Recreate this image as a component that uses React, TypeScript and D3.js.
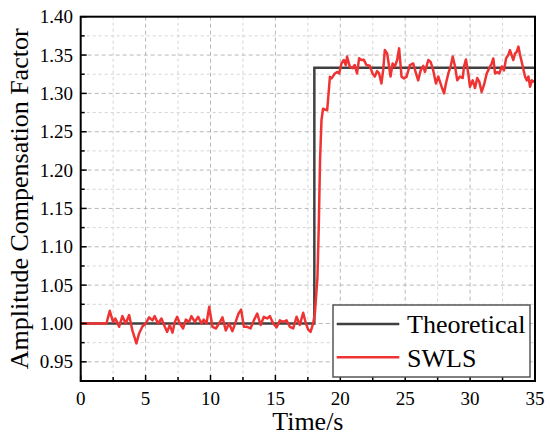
import React from "react";
import * as d3 from "d3";

const swlsTime = [
  0, 1.98, 2.24, 2.49, 2.67, 2.96, 3.21, 3.47, 3.73, 3.98, 4.29, 4.5, 4.75, 5.01, 5.27, 5.53, 5.7, 5.96,
  6.22, 6.48, 6.66, 6.86, 7.07, 7.25, 7.43, 7.63, 7.89, 8.1, 8.35, 8.53, 8.79, 9.05, 9.3, 9.48, 9.69,
  9.9, 10.15, 10.41, 10.66, 10.92, 11.18, 11.43, 11.69, 11.94, 12.16, 12.36, 12.57, 12.82, 13.08, 13.34,
  13.6, 13.86, 14.11, 14.37, 14.57, 14.83, 15.1, 15.34, 15.6, 15.86, 16.11, 16.37, 16.63, 16.88, 17.14,
  17.35, 17.53, 17.71, 17.91, 18.04, 18.24, 18.34, 18.44, 18.55, 18.67, 18.81, 18.99, 19.2, 19.33, 19.58,
  19.76, 19.91, 20.09, 20.27, 20.42, 20.52, 20.73, 20.94, 21.11, 21.29, 21.45, 21.63, 21.81, 22.01, 22.27,
  22.48, 22.66, 22.83, 22.99, 23.17, 23.3, 23.43, 23.61, 23.76, 23.87, 24.03, 24.2, 24.38, 24.53, 24.72,
  24.9, 25.1, 25.36, 25.62, 25.83, 26.0, 26.19, 26.39, 26.52, 26.78, 26.96, 27.16, 27.37, 27.55, 27.81,
  27.99, 28.14, 28.32, 28.5, 28.66, 28.84, 29.01, 29.22, 29.43, 29.53, 29.68, 29.86, 29.99, 30.2, 30.38,
  30.55, 30.71, 30.89, 31.07, 31.28, 31.48, 31.66, 31.79, 31.92, 32.1, 32.25, 32.44, 32.61, 32.77, 32.94,
  33.07, 33.2, 33.33, 33.46, 33.59, 33.72, 33.85, 34.06, 34.23, 34.37, 34.49, 34.62, 34.75, 34.93,
];

const swlsValue = [
  1.0, 1.0, 1.0165, 1.002, 1.0065, 0.9957, 1.0096, 1.0, 1.011, 0.991, 0.974, 0.987, 0.996, 1.0, 1.008, 1.004,
  1.0096, 1.0, 1.0065, 0.9957, 0.989, 0.998, 0.988, 1.002, 1.0087, 1.0, 0.9935, 1.005, 1.002, 1.0096, 1.002,
  1.0087, 1.0, 1.005, 1.0, 1.0217, 0.9957, 0.9935, 1.0, 1.008, 0.991, 1.0, 0.99, 1.002, 1.013, 1.018, 0.9957,
  0.9957, 0.9935, 1.004, 1.013, 0.998, 1.0087, 1.0065, 1.0096, 1.0, 0.995, 1.004, 1.002, 1.004, 0.9957,
  0.9935, 1.0087, 0.998, 1.014, 1.0, 0.992, 0.989, 1.0, 1.013, 1.06, 1.126, 1.213, 1.265, 1.28, 1.279,
  1.278, 1.3216, 1.3196, 1.326, 1.328, 1.326, 1.339, 1.3435, 1.337, 1.348, 1.335, 1.333, 1.337, 1.326,
  1.3457, 1.3435, 1.344, 1.337, 1.336, 1.326, 1.322, 1.329, 1.326, 1.313, 1.33, 1.3565, 1.352, 1.335, 1.322,
  1.339, 1.335, 1.3435, 1.3587, 1.3216, 1.3196, 1.3216, 1.337, 1.339, 1.326, 1.317, 1.33, 1.336, 1.328,
  1.3435, 1.341, 1.33, 1.313, 1.322, 1.3086, 1.3, 1.313, 1.326, 1.335, 1.348, 1.335, 1.317, 1.322, 1.32,
  1.335, 1.3443, 1.326, 1.3086, 1.317, 1.307, 1.32, 1.315, 1.302, 1.311, 1.326, 1.333, 1.339, 1.3456, 1.326,
  1.328, 1.326, 1.335, 1.33, 1.3456, 1.35, 1.3565, 1.35, 1.3435, 1.352, 1.354, 1.361, 1.35, 1.335, 1.322,
  1.317, 1.322, 1.3086, 1.317, 1.315,
];

const theoTime = [0, 18, 18, 35];
const theoValue = [1.0, 1.0, 1.3333, 1.3333];

const xTicks = [0, 5, 10, 15, 20, 25, 30, 35];
const xMinorTicks = [2.5, 7.5, 12.5, 17.5, 22.5, 27.5, 32.5];
const yTicks = [0.95, 1.0, 1.05, 1.1, 1.15, 1.2, 1.25, 1.3, 1.35, 1.4];
const yMinorTicks = [0.925, 0.975, 1.025, 1.075, 1.125, 1.175, 1.225, 1.275, 1.325, 1.375];

const legendLabels = ["Theoretical", "SWLS"];

const W = 550;
const H = 440;
const L = 80.7;
const R = 535;
const T = 16.7;
const B = 381;

const FONT = "Liberation Serif, DejaVu Serif, serif";

export default function App() {
  const x = d3.scaleLinear().domain([0, 35]).range([L, R]);
  const y = d3.scaleLinear().domain([0.925, 1.4]).range([B, T]);

  const swlsPath = d3
    .line<[number, number]>()
    .x((d) => x(d[0]))
    .y((d) => y(d[1]))(swlsTime.map((t, i) => [t, swlsValue[i]] as [number, number]));
  const theoPath = d3
    .line<[number, number]>()
    .x((d) => x(d[0]))
    .y((d) => y(d[1]))(theoTime.map((t, i) => [t, theoValue[i]] as [number, number]));

  const colors = ["#404040", "#ef3333"];
  const ts = { fontFamily: FONT };

  return (
    <svg
      width={W}
      height={H}
      style={{ position: "absolute", left: 0, top: 0, background: "#fff", fontFamily: FONT }}
    >
      <rect x={0} y={0} width={W} height={H} fill="#fff" />
      {xMinorTicks.map((t) => (
        <line key={"xm" + t} x1={x(t)} x2={x(t)} y1={T} y2={B} stroke="#d4d4d4" strokeWidth={1} strokeDasharray="3,3" />
      ))}
      {yMinorTicks.map((v) => (
        <line key={"ym" + v} x1={L} x2={R} y1={y(v)} y2={y(v)} stroke="#d4d4d4" strokeWidth={1} strokeDasharray="3,3" />
      ))}
      {xTicks.slice(1, -1).map((t) => (
        <line key={"xg" + t} x1={x(t)} x2={x(t)} y1={T} y2={B} stroke="#b8b8b8" strokeWidth={1} strokeDasharray="4,3" />
      ))}
      {yTicks.slice(0, -1).map((v) => (
        <line key={"yg" + v} x1={L} x2={R} y1={y(v)} y2={y(v)} stroke="#b8b8b8" strokeWidth={1} strokeDasharray="4,3" />
      ))}

      <path d={theoPath || ""} fill="none" stroke={colors[0]} strokeWidth={2.5} />
      <path d={swlsPath || ""} fill="none" stroke={colors[1]} strokeWidth={2.5} strokeLinejoin="round" />

      <rect x={L} y={T} width={R - L} height={B - T} fill="none" stroke="#000" strokeWidth={2} />

      {xTicks.map((t) => (
        <line key={"xt" + t} x1={x(t)} x2={x(t)} y1={B} y2={B - 6} stroke="#000" strokeWidth={1.5} />
      ))}
      {xMinorTicks.map((t) => (
        <line key={"xmt" + t} x1={x(t)} x2={x(t)} y1={B} y2={B - 4} stroke="#000" strokeWidth={1.5} />
      ))}
      {yTicks.map((v) => (
        <line key={"yt" + v} x1={L} x2={L + 6} y1={y(v)} y2={y(v)} stroke="#000" strokeWidth={1.5} />
      ))}
      {yMinorTicks.map((v) => (
        <line key={"ymt" + v} x1={L} x2={L + 4} y1={y(v)} y2={y(v)} stroke="#000" strokeWidth={1.5} />
      ))}

      {xTicks.map((t) => (
        <text key={"xl" + t} x={x(t)} y={405} fontSize={19} textAnchor="middle" fill="#000" style={ts}>
          {t}
        </text>
      ))}
      {yTicks.map((v) => (
        <text key={"yl" + v} x={73} y={y(v)} dy="0.35em" fontSize={19} textAnchor="end" fill="#000" style={ts}>
          {v.toFixed(2)}
        </text>
      ))}

      <text x={(L + R) / 2} y={430} fontSize={26} textAnchor="middle" fill="#000" style={ts}>
        Time/s
      </text>
      <text
        transform={`translate(28, ${(T + B) / 2}) rotate(-90)`}
        fontSize={26}
        textAnchor="middle"
        fill="#000"
        style={ts}
      >
        Amplitude Compensation Factor
      </text>

      <rect x={333} y={305} width={197} height={72} fill="#fff" stroke="#555" strokeWidth={1.5} />
      {legendLabels.map((lab, i) => (
        <g key={lab}>
          <line x1={336.7} x2={399.3} y1={324 + i * 33.3} y2={324 + i * 33.3} stroke={colors[i]} strokeWidth={2.5} />
          <text x={407} y={333.3 + i * 33.3} fontSize={26} fill="#000" style={ts}>
            {lab}
          </text>
        </g>
      ))}
    </svg>
  );
}
